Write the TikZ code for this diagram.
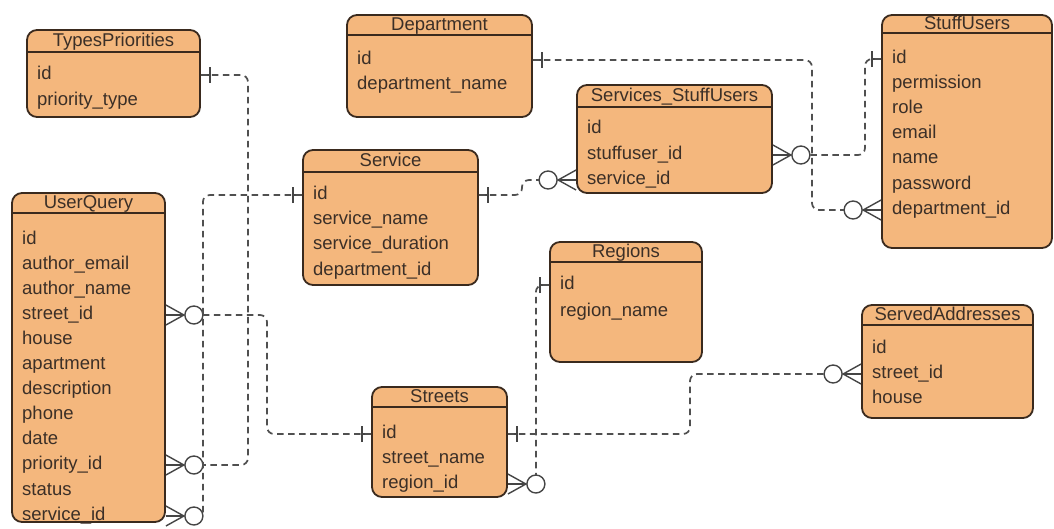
\documentclass[tikz,border=0pt]{standalone}
\usepackage{fontspec}
\setmainfont{Liberation Sans}
\usetikzlibrary{fit}

\definecolor{tblfill}{HTML}{F4B77D}
\definecolor{tbledge}{HTML}{3A2A1E}
\definecolor{tbltext}{HTML}{3B2F27}
\definecolor{connc}{HTML}{505050}
\definecolor{markcol}{HTML}{454545}

\tikzset{
  tbl/.style={draw=tbledge, fill=tblfill, line width=1.8pt, rounded corners=10pt, inner sep=0pt},
  hdrline/.style={draw=tbledge, line width=1.6pt},
  ttl/.style={font=\fontsize{18.5}{20}\selectfont, text=tbltext, inner sep=0pt,
              text height=13pt, text depth=4pt},
  row/.style={ttl, anchor=west, yshift=-2pt},
  conn/.style={draw=connc, line width=1.7pt, dash pattern=on 6.5pt off 4.5pt, rounded corners=7pt},
  markc/.style={draw=markcol, line width=1.4pt},
}

% table box with a title band
\newcommand\ertable[7]{%
  \node[tbl, fit={(#2,#3) (#4,#5)}] (#1) {};
  \draw[hdrline] (#2,#6) -- (#4,#6);
  \node[ttl] (#1-title) at ({(#2+#4)/2},{(#3+#6)/2+1}) {#7};
}
% "exactly one" end: a bar across the line
\newcommand\onebar[2]{%
  \begin{scope}[shift={#1}, rotate=#2]
    \draw[markc] (0,0) -- (9,0);
    \draw[markc] (9,-8) -- (9,8);
  \end{scope}}
% "zero or many" end: crow's foot and a ring
\newcommand\crowzero[3]{%
  \begin{scope}[shift={#1}, rotate=#2]
    \draw[markc] (0,-10) -- (18,0) -- (0,10);
    \draw[markc] (0,0) -- (18,0);
    \draw[markc, fill=white] (28,0) circle[radius=9pt];
    \coordinate (#3) at (37,0);
    \coordinate (#3-c) at (28,0);
    \coordinate (#3-t) at (28,-9);
  \end{scope}}

\begin{document}
\begin{tikzpicture}[x=1pt, y=-1pt]
\useasboundingbox (0,0) rectangle (1054,528);

% ---------- tables ----------
\ertable{tp}{27}{30}{200}{117}{52}{TypesPriorities}
\node[row] (tp-id)   at (37,73) {id};
\node[row] (tp-type) at (37,99) {priority\_type};

\ertable{uq}{12}{193}{165}{522}{213}{UserQuery}
\node[row] (uq-id)     at (22,238) {id};
\node[row] (uq-email)  at (22,263) {author\_email};
\node[row] (uq-name)   at (22,288) {author\_name};
\node[row] (uq-street) at (22,313) {street\_id};
\node[row] (uq-house)  at (22,338) {house};
\node[row] (uq-apt)    at (22,363) {apartment};
\node[row] (uq-desc)   at (22,388) {description};
\node[row] (uq-phone)  at (22,413) {phone};
\node[row] (uq-date)   at (22,438) {date};
\node[row] (uq-prio)   at (22,463) {priority\_id};
\node[row] (uq-status) at (22,489) {status};
\node[row] (uq-svc)    at (22,514) {service\_id};

\ertable{dep}{347}{15}{532}{117}{35}{Department}
\node[row] (dep-id)   at (357,58) {id};
\node[row] (dep-name) at (357,83) {department\_name};

\ertable{sv}{303}{150}{478}{285}{172}{Service}
\node[row] (sv-id)   at (313,193) {id};
\node[row] (sv-name) at (313,218) {service\_name};
\node[row] (sv-dur)  at (313,243) {service\_duration};
\node[row] (sv-dept) at (313,269) {department\_id};

\ertable{ssu}{577}{85}{772}{193}{107}{Services\_StuffUsers}
\node[row] (ssu-id)   at (587,127) {id};
\node[row] (ssu-user) at (587,153) {stuffuser\_id};
\node[row] (ssu-svc)  at (587,178) {service\_id};

\ertable{su}{882}{15}{1052}{248}{33}{StuffUsers}
\node[row] (su-id)   at (892,57)  {id};
\node[row] (su-perm) at (892,82)  {permission};
\node[row] (su-role) at (892,107) {role};
\node[row] (su-mail) at (892,132) {email};
\node[row] (su-name) at (892,157) {name};
\node[row] (su-pass) at (892,183) {password};
\node[row] (su-dept) at (892,208) {department\_id};

\ertable{reg}{550}{242}{702}{362}{262}{Regions}
\node[row] (reg-id)   at (560,283) {id};
\node[row] (reg-name) at (560,310) {region\_name};

\ertable{st}{372}{387}{507}{497}{407}{Streets}
\node[row] (st-id)     at (382,432) {id};
\node[row] (st-name)   at (382,457) {street\_name};
\node[row] (st-region) at (382,482) {region\_id};

\ertable{sa}{862}{305}{1033}{418}{325}{ServedAddresses}
\node[row] (sa-id)     at (872,347) {id};
\node[row] (sa-street) at (872,372) {street\_id};
\node[row] (sa-house)  at (872,397) {house};

% ---------- relationship ends ----------
\onebar{(tp.east|-tp-id)}{0}
\crowzero{(uq.east|-uq-prio)}{0}{m1}
\onebar{(sv.west|-sv-id)}{180}
\crowzero{(uq.east|-uq-svc)}{0}{m2}
\crowzero{(uq.east|-uq-street)}{0}{m3}
\onebar{(st.west|-st-id)}{180}
\onebar{(sv.east|-sv-id)}{0}
\crowzero{(ssu.west|-ssu-svc)}{180}{m4}
\onebar{(dep.east|-dep-id)}{0}
\crowzero{(su.west|-su-dept)}{180}{m5}
\onebar{(su.west|-su-id)}{180}
\crowzero{(ssu.east|-ssu-user)}{0}{m6}
\onebar{(reg.west|-reg-id)}{180}
\crowzero{(st.east|-st-region)}{0}{m7}
\onebar{(st.east|-st-id)}{0}
\crowzero{(sa.west|-sa-street)}{180}{m8}

% ---------- routing columns ----------
\coordinate (v1) at (248,0);
\coordinate (v3) at (267,0);
\coordinate (v4) at (522,0);
\coordinate (v5) at (812,0);
\coordinate (v6) at (865,0);
\coordinate (v8) at (690,0);

% ---------- connectors ----------
\draw[conn] (tp.east|-tp-id) -| (v1|-m1) -- (m1);
\draw[conn] (sv.west|-sv-id) -| (m2);
\draw[conn] (m3) -| (v3|-st-id) -- (st.west|-st-id);
\draw[conn] (sv.east|-sv-id) -| (v4|-m4) -- (m4);
\draw[conn] (dep.east|-dep-id) -| (v5|-m5) -- (m5);
\draw[conn] (su.west|-su-id) -| (v6|-m6) -- (m6);
\draw[conn] (reg.west|-reg-id) -| (m7-t);
\draw[conn] (st.east|-st-id) -| (v8|-m8) -- (m8);
\end{tikzpicture}
\end{document}
